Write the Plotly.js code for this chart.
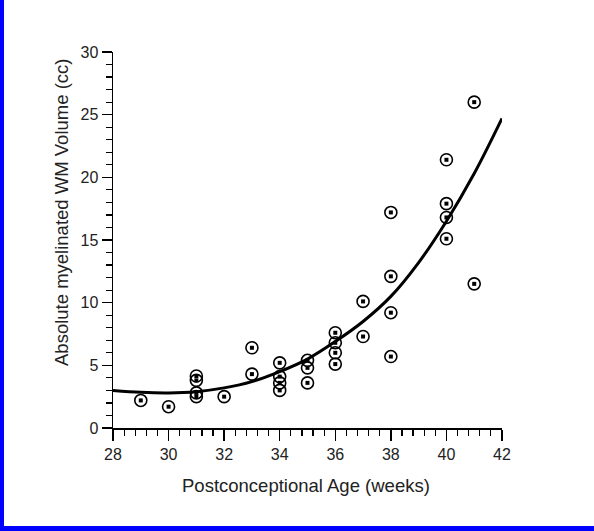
<!DOCTYPE html>
<html>
<head>
<meta charset="utf-8">
<script src="https://cdn.plot.ly/plotly-3.0.1.min.js"></script>
<style>
  html, body { margin: 0; padding: 0; background: #fff; }
  #wrap { position: relative; width: 594px; height: 531px; overflow: hidden; }
  #plot { position: absolute; left: 0; top: 0; width: 594px; height: 531px; }
  .edge { position: absolute; background: #0000ff; }
</style>
</head>
<body>
<div id="wrap">
  <div id="plot"></div>
  <div class="edge" style="left:0;top:0;width:4px;height:531px;"></div>
  <div class="edge" style="left:0;top:526px;width:594px;height:5px;"></div>
</div>
<script>
// Observed data points
const ageWeeks = [29, 30, 31, 31, 31, 31, 32, 33, 33, 34, 34, 34, 34,
                  35, 35, 35, 36, 36, 36, 36, 37, 37, 38, 38, 38, 38,
                  40, 40, 40, 40, 41, 41];
const wmVolume = [2.2, 1.7, 4.15, 3.8, 2.8, 2.5, 2.5, 6.4, 4.3, 5.2, 4.1, 3.6, 3.0,
                  5.4, 4.8, 3.6, 7.6, 6.8, 6.0, 5.1, 10.1, 7.3, 17.2, 12.1, 9.2, 5.7,
                  21.4, 17.9, 16.8, 15.1, 11.5, 26.0];

// Fitted curve
const fitAge = [28, 29, 30, 31, 32, 33, 34, 35, 36, 37, 38, 39, 40, 41, 42];
const fitVol = [3.0, 2.85, 2.8, 2.9, 3.2, 3.7, 4.5, 5.5, 6.9, 8.5, 10.5, 13.2, 16.5, 20.3, 24.7];

const xTicks = [28, 30, 32, 34, 36, 38, 40, 42];
const yTicks = [0, 5, 10, 15, 20, 25, 30];

const xTitle = 'Postconceptional Age (weeks)';
const yTitle = 'Absolute myelinated WM Volume (cc)';

const fontFam = '"Liberation Sans", Arial, sans-serif';

// minor tick positions (axis decoration): every 0.4 week between majors
const xMinor = [];
for (let i = 0; i <= 35; i++) {
  const v = Math.round((28 + i * 0.4) * 10) / 10;
  if (v % 2 !== 0) xMinor.push(v);
}

const traces = [
  {
    x: fitAge, y: fitVol, type: 'scatter', mode: 'lines',
    line: { color: '#000', width: 3, shape: 'spline', smoothing: 1 },
    hoverinfo: 'skip', showlegend: false
  },
  {
    x: ageWeeks, y: wmVolume, type: 'scatter', mode: 'markers',
    marker: { symbol: 'circle-open', size: 12, color: '#000', line: { color: '#000', width: 1.6 } },
    showlegend: false
  },
  {
    x: ageWeeks, y: wmVolume, type: 'scatter', mode: 'markers',
    marker: { symbol: 'square', size: 4, color: '#000', line: { width: 0 } },
    showlegend: false
  }
];

const layout = {
  width: 594, height: 531,
  margin: { l: 113, r: 92, t: 52, b: 103 },
  paper_bgcolor: '#fff', plot_bgcolor: '#fff',
  showlegend: false,
  font: { family: fontFam, color: '#222', size: 16 },
  xaxis: {
    range: [28, 42], tickmode: 'array', tickvals: xTicks, ticktext: xTicks.map(String),
    showgrid: false, zeroline: false, showline: true, linecolor: '#000', linewidth: 1.5,
    ticks: 'outside', ticklen: 11, tickwidth: 1.5, tickcolor: '#000',
    minor: { tickmode: 'array', tickvals: xMinor, ticks: 'outside', ticklen: 6, tickwidth: 1.2, tickcolor: '#000', showgrid: false },
    tickfont: { family: fontFam, size: 16, color: '#222' },
    fixedrange: true
  },
  yaxis: {
    range: [0, 30], tickmode: 'array', tickvals: yTicks, ticktext: yTicks.map(String),
    showgrid: false, zeroline: false, showline: true, linecolor: '#000', linewidth: 1.5,
    ticks: 'outside', ticklen: 10, tickwidth: 1.5, tickcolor: '#000',
    minor: { tick0: 0, dtick: 1, ticks: 'outside', ticklen: 6, tickwidth: 1.2, tickcolor: '#000', showgrid: false },
    tickfont: { family: fontFam, size: 16, color: '#222' },
    fixedrange: true
  },
  annotations: [
    {
      text: xTitle, xref: 'paper', yref: 'paper', x: 0.4974, y: -0.1516,
      xanchor: 'center', yanchor: 'middle', showarrow: false,
      font: { family: fontFam, size: 18.5, color: '#222' }
    },
    {
      text: yTitle, xref: 'paper', yref: 'paper', x: -0.131, y: 0.572,
      xanchor: 'center', yanchor: 'middle', showarrow: false, textangle: -90,
      font: { family: fontFam, size: 18.5, color: '#222' }
    }
  ]
};

Plotly.newPlot('plot', traces, layout, { displayModeBar: false, staticPlot: true });
</script>
</body>
</html>
